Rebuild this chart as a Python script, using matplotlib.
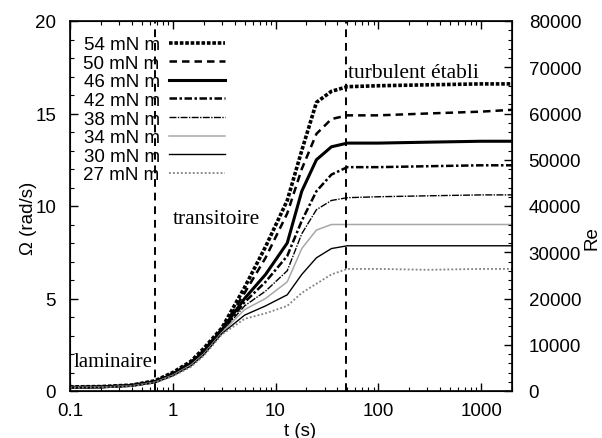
import matplotlib
matplotlib.use("Agg")
import matplotlib.pyplot as plt
import numpy as np
from matplotlib.ticker import FixedLocator, FixedFormatter, LogLocator, MultipleLocator, NullFormatter

# ---- data ----
t = [0.1, 0.2, 0.4, 0.67, 1.0, 1.5, 2.0, 3.0, 5.0, 8.0, 13.0, 18.0, 25.0, 35.0, 50.0, 100.0, 300.0, 1000.0, 2000.0]
labels = ["54 mN m", "50 mN m", "46 mN m", "42 mN m", "38 mN m", "34 mN m", "30 mN m", "27 mN m"]
omega = {
    "54 mN m": [0.22, 0.24, 0.32, 0.55, 1.0, 1.6, 2.3, 3.4, 5.6, 7.8, 10.3, 13.0, 15.6, 16.2, 16.45, 16.5, 16.55, 16.6, 16.6],
    "50 mN m": [0.21, 0.23, 0.31, 0.53, 0.95, 1.55, 2.2, 3.35, 5.3, 7.2, 9.6, 12.0, 13.9, 14.7, 14.9, 14.9, 15.0, 15.1, 15.2],
    "46 mN m": [0.2, 0.22, 0.3, 0.5, 0.9, 1.5, 2.15, 3.3, 5.0, 6.3, 8.0, 10.8, 12.5, 13.2, 13.4, 13.4, 13.45, 13.5, 13.5],
    "42 mN m": [0.2, 0.22, 0.3, 0.5, 0.9, 1.5, 2.1, 3.25, 4.8, 5.9, 7.3, 9.2, 10.8, 11.7, 12.1, 12.1, 12.15, 12.2, 12.2],
    "38 mN m": [0.19, 0.21, 0.29, 0.48, 0.87, 1.45, 2.05, 3.2, 4.6, 5.4, 6.5, 8.5, 9.8, 10.3, 10.45, 10.5, 10.55, 10.6, 10.6],
    "34 mN m": [0.19, 0.21, 0.28, 0.47, 0.85, 1.4, 2.0, 3.15, 4.4, 5.0, 5.9, 7.7, 8.7, 9.0, 9.0, 9.0, 9.0, 9.0, 9.0],
    "30 mN m": [0.18, 0.2, 0.27, 0.45, 0.82, 1.35, 1.95, 3.1, 4.1, 4.6, 5.2, 6.3, 7.2, 7.7, 7.85, 7.85, 7.85, 7.85, 7.85],
    "27 mN m": [0.18, 0.2, 0.26, 0.44, 0.8, 1.3, 1.9, 3.05, 3.9, 4.2, 4.6, 5.3, 5.8, 6.3, 6.6, 6.6, 6.55, 6.6, 6.6],
}
regime_lines = [0.67, 48.0]
xticks = [0.1, 1, 10, 100, 1000]
xtick_labels = ["0.1", "1", "10", "100", "1000"]
re_ticks = [0, 10000, 20000, 30000, 40000, 50000, 60000, 70000, 80000]
re_per_omega = 4000.0

styles = {
    "54 mN m": dict(color="black", lw=2.6, ls=(0, (1, 0.5))),
    "50 mN m": dict(color="black", lw=1.8, ls=(0, (3, 2))),
    "46 mN m": dict(color="black", lw=2.2, ls="-"),
    "42 mN m": dict(color="black", lw=1.8, ls=(0, (3, 1, 1, 1))),
    "38 mN m": dict(color="black", lw=1.0, ls=(0, (5, 1, 1, 1))),
    "34 mN m": dict(color="#a8a8a8", lw=1.1, ls="-"),
    "30 mN m": dict(color="black", lw=1.0, ls="-"),
    "27 mN m": dict(color="#808080", lw=1.3, ls=(0, (1, 1.2))),
}

FS = 13.5
plt.rcParams["font.family"] = ["Liberation Sans", "DejaVu Sans"]
fig = plt.figure(figsize=(6.02, 4.39), dpi=100)
ax = fig.add_axes([70/602, 47/439, 442/602, 370/439])

for lab in labels:
    ax.plot(t, omega[lab], label=lab, **styles[lab])

for x in regime_lines:
    ax.axvline(x, color="black", lw=1.4, ls=(0, (4, 3)))

ax.set_xscale("log")
ax.set_xlim(0.1, 2000)
ax.set_ylim(0, 20)
ax.xaxis.set_major_locator(FixedLocator(xticks))
ax.xaxis.set_major_formatter(FixedFormatter(xtick_labels))
ax.xaxis.set_minor_locator(LogLocator(base=10, subs=np.arange(2, 10)))
ax.xaxis.set_minor_formatter(NullFormatter())
ax.yaxis.set_major_locator(MultipleLocator(5))
ax.yaxis.set_minor_locator(MultipleLocator(1))
ax.tick_params(which="both", direction="in", top=True, right=False, labelsize=FS)
ax.tick_params(which="major", length=6, width=1)
ax.tick_params(which="minor", length=3, width=0.8)
ax.tick_params(axis="y", pad=10)
ax.tick_params(axis="x", pad=8)
for s in ax.spines.values():
    s.set_linewidth(1.2)

ax2 = ax.twinx()
ax2.set_ylim(0, 20 * re_per_omega)
ax2.yaxis.set_major_locator(FixedLocator(re_ticks))
ax2.yaxis.set_minor_locator(MultipleLocator(2000))
ax2.tick_params(which="both", direction="in", labelsize=FS, pad=12)
ax2.tick_params(which="major", length=6, width=1)
ax2.tick_params(which="minor", length=3, width=0.8)

ax.set_ylabel("Ω (rad/s)", fontsize=FS)
ax.yaxis.set_label_coords(-0.075, 0.47)
ax.set_xlabel("t (s)", fontsize=FS)
ax.xaxis.set_label_coords(0.52, -0.085)
fig.text(592/602, 1 - 238/439, "Re", rotation=90, fontsize=FS, ha="center", va="center")

serif = ["Liberation Serif", "DejaVu Serif"]
ax.text(0.108, 1.6, "laminaire", family=serif, fontsize=15, ha="left", va="center")
ax.text(1.0, 9.3, "transitoire", family=serif, fontsize=15.5, ha="left", va="center")
ax.text(51, 17.2, "turbulent établi", family=serif, fontsize=15.5, ha="left", va="center")

leg = ax.legend(loc="upper left", bbox_to_anchor=(0.005, 0.99), frameon=False,
                markerfirst=False, fontsize=FS, handlelength=3.0, labelspacing=0.08,
                handletextpad=0.5, borderaxespad=0.2)

fig.savefig("out.png", dpi=100)
